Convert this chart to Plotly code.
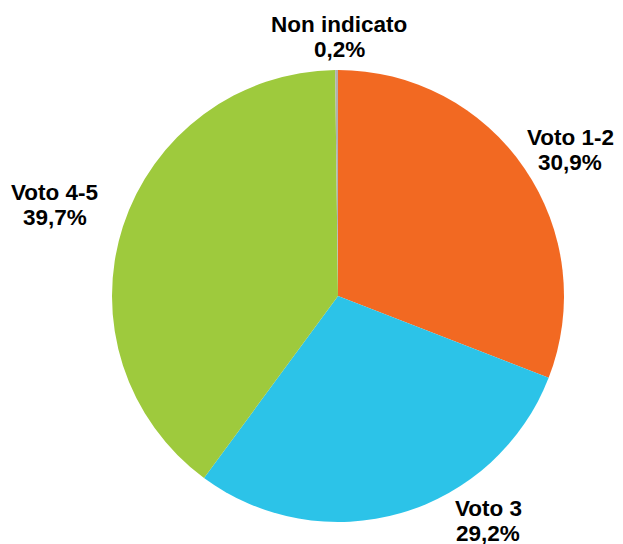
import plotly.graph_objects as go

labels = ["Voto 1-2", "Voto 3", "Voto 4-5", "Non indicato"]
values = [30.9, 29.2, 39.7, 0.2]
colors = ["#F26922", "#2CC3E8", "#9ECA3D", "#B0B0B0"]

W, H = 623, 544
OFF = 8  # page body margin offset
cx, cy, r = 338 - OFF, 296 - OFF, 226

# label block centres (pixels from top-left of page), layout only
label_pos = [(570, 150), (488, 521), (55, 205), (339, 37)]
line_gap = 24.5

fig = go.Figure(go.Pie(
    labels=labels,
    values=values,
    sort=False,
    direction="clockwise",
    rotation=0,
    marker=dict(colors=colors, line=dict(width=0)),
    textinfo="none",
    showlegend=False,
    hoverinfo="label+value",
    domain=dict(x=[(cx - r) / W, (cx + r) / W], y=[(H - cy - r) / H, (H - cy + r) / H]),
))

font = dict(family="Liberation Sans, Arial, sans-serif", size=22.5, color="#000000")
for lab, val, (px, py) in zip(labels, values, label_pos):
    pct = f"{val:.1f}".replace(".", ",") + "%"
    px, py = px - OFF, py - OFF
    for txt, yy in ((lab, py - line_gap / 2), (pct, py + line_gap / 2)):
        fig.add_annotation(
            x=px / W, y=1 - yy / H, xref="paper", yref="paper",
            text=f"<b>{txt}</b>", showarrow=False,
            xanchor="center", yanchor="middle", font=font,
        )

fig.update_layout(
    width=W, height=H,
    margin=dict(l=0, r=0, t=0, b=0),
    paper_bgcolor="white",
    plot_bgcolor="white",
)

fig.write_html("out.html")
